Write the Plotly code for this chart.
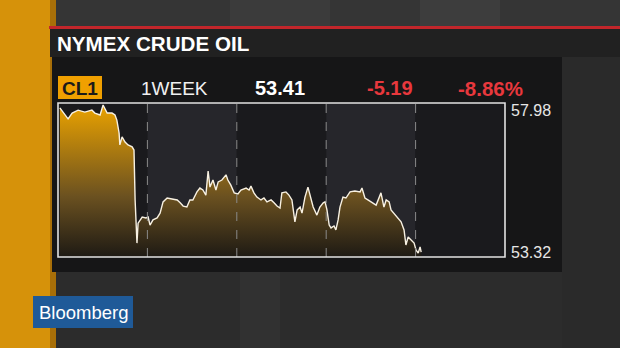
import plotly.graph_objects as go

# ---- data (hours since start of week, price) ----
hours = [0.5, 1.9, 2.7, 3.8, 5.4, 7.2, 9.1, 9.9, 11.3, 12.1, 13.2, 14.5, 15.3, 15.8, 16.4, 16.6,
         17.2, 18.0, 18.8, 19.9, 20.4, 20.7, 20.9, 21.2, 21.5, 22.0, 22.6, 23.6, 24.2,
         24.7, 25.5, 26.6, 27.4, 28.2, 29.3, 30.6, 32.0, 32.8, 33.6, 34.6, 35.4, 36.2, 37.3,
         38.1, 38.9, 39.7, 40.3, 40.8, 41.6, 42.4, 43.0, 44.0, 45.1, 45.6, 46.4, 47.3, 48.3,
         49.1, 50.5, 51.3, 51.8, 52.6, 53.4, 54.5, 55.3, 56.1, 57.2, 58.0, 58.8, 59.6, 60.1,
         61.2, 62.0, 62.8, 63.6, 64.2, 65.0, 65.5, 66.3, 67.1, 67.9, 68.5, 69.5, 70.3, 71.2,
         71.7, 72.2, 72.8, 73.3, 74.1, 74.6, 75.2, 75.7, 76.5, 77.3, 78.4, 79.7, 81.1, 81.6,
         82.4, 83.2, 84.3, 85.4, 86.7, 87.5, 88.1, 88.9, 89.4, 90.5, 91.3, 92.1, 92.9, 93.4,
         94.0, 94.8, 95.6, 96.1, 96.7, 97.2, 97.5]
prices = [57.89, 57.67, 57.55, 57.73, 57.82, 57.76, 57.82, 57.73, 57.67, 57.98, 57.73, 57.73,
          57.67, 57.51, 57.11, 56.74, 56.99, 56.83, 56.74, 56.68, 56.58, 55.03, 54.31, 53.69,
          54.31, 54.41, 54.50, 54.47, 54.50,
          54.25, 54.41, 54.47, 54.62, 54.97, 55.09, 55.06, 55.03, 54.94, 54.84, 54.81, 55.03,
          55.03, 55.28, 55.40, 55.34, 55.18, 55.93, 55.43, 55.65, 55.34, 55.59, 55.65, 55.81,
          55.65, 55.49, 55.25, 55.22,
          55.34, 55.40, 55.34, 55.46, 55.25, 55.12, 55.03, 55.09, 54.97, 55.03, 54.94, 54.84,
          54.78, 55.25, 55.28, 55.18, 55.03, 54.35, 54.72, 54.81, 54.62, 55.12, 55.43, 55.03,
          54.81, 54.56, 54.81, 54.94,
          54.97, 54.72, 54.25, 54.16, 54.22, 54.10, 54.41, 54.81, 55.12, 55.09, 55.28, 55.31,
          55.28, 55.40, 55.09, 55.03, 54.94, 54.87, 55.25, 54.81, 55.03, 54.97, 54.72, 54.56,
          54.47, 54.35, 54.10, 53.63, 53.88, 53.79, 53.69, 53.48, 53.38, 53.57, 53.41]

day_bounds = [0, 24, 48, 72, 96, 120]
y_high, y_low = 57.98, 53.32
ticker, period, last, chg, pct = "CL1", "1WEEK", "53.41", "-5.19", "-8.86%"
title = "NYMEX CRUDE OIL"

# ---- layout geometry (pixels) ----
W, H = 620, 348
L, R, T, B = 58, 505, 103, 257
pad = (y_high - y_low) * 2 / 150


def px(x):
    return (x - L) / (R - L)


def py(y):
    return (B - y) / (B - T)


def prect(x0, y0, x1, y1, color, layer="below"):
    return dict(type="rect", xref="paper", yref="paper", x0=px(x0), x1=px(x1),
                y0=py(y1), y1=py(y0), fillcolor=color, line=dict(width=0), layer=layer)


fig = go.Figure()
fig.add_trace(go.Scatter(
    x=hours, y=prices, mode="lines",
    line=dict(color="#f8f1e2", width=1.4),
    fill="tozeroy",
    fillgradient=dict(type="vertical", start=y_low - pad, stop=y_high,
                      colorscale=[[0, "#1e1a14"], [0.4, "#6b5120"], [1, "#eaa200"]]),
    hoverinfo="skip", showlegend=False))

shapes = []
# background decoration
shapes.append(prect(0, 0, W, 27, "#353535"))
shapes.append(prect(230, 0, 330, 27, "#3b3b3b"))
shapes.append(prect(420, 0, 500, 27, "#3d3d3d"))
shapes.append(prect(240, 272, 280, H, "#313131"))
shapes.append(prect(562, 57, W, H, "#2a2a2a"))
shapes.append(prect(0, 0, 52, H, "#d6920a"))
shapes.append(prect(50, 0, 56, H, "#a86f08"))
shapes.append(prect(49, 26, W, 29, "#c2262b"))
shapes.append(prect(50, 29, W, 57, "#212121"))
shapes.append(prect(52, 57, 562, 272, "#161617"))
# day sections
for i in range(len(day_bounds) - 1):
    shapes.append(dict(type="rect", xref="x", yref="paper", x0=day_bounds[i], x1=day_bounds[i + 1],
                       y0=0, y1=1, fillcolor="#26262b" if i % 2 == 1 else "#1a1a1d",
                       line=dict(width=0), layer="below"))
for d in day_bounds[1:-1]:
    shapes.append(dict(type="line", xref="x", yref="paper", x0=d, x1=d, y0=0, y1=1,
                       line=dict(color="#8a8a8a", width=1, dash="dash"), layer="above"))
shapes.append(dict(type="rect", xref="paper", yref="paper", x0=0, x1=1, y0=0, y1=1,
                   line=dict(color="#e2e2e2", width=1.6), layer="above"))
# ticker box and logo
shapes.append(prect(58, 76, 102, 99, "#f0a000", "above"))
shapes.append(prect(33, 296, 133, 328, "#1f5a98", "above"))

FONT = "Liberation Sans, Arial, sans-serif"


def txt(x, y, s, size, color, bold=False, anchor="left"):
    return dict(xref="paper", yref="paper", x=px(x), y=py(y), text=f"<b>{s}</b>" if bold else s,
                showarrow=False, xanchor=anchor, yanchor="middle",
                font=dict(family=FONT, size=size, color=color))


ann = [
    txt(55, 43, title, 20.6, "#ffffff", bold=True),
    txt(80, 88, ticker, 19, "#1a1a1a", bold=True, anchor="center"),
    txt(174, 88, period, 19, "#f0f0f0", anchor="center"),
    txt(280, 88, last, 20, "#ffffff", bold=True, anchor="center"),
    txt(390, 88, chg, 20, "#e8383d", bold=True, anchor="center"),
    txt(490, 88, pct, 20.5, "#e8383d", bold=True, anchor="center"),
    txt(509, 110, f"{y_high:.2f}", 16, "#e6e6e6"),
    txt(509, 252, f"{y_low:.2f}", 16, "#e6e6e6"),
    txt(83, 312, "Bloomberg", 18.5, "#ffffff", anchor="center"),
]

fig.update_layout(
    width=W, height=H,
    margin=dict(l=L, r=W - R, t=T, b=H - B, pad=0),
    paper_bgcolor="#2c2c2c", plot_bgcolor="rgba(0,0,0,0)",
    xaxis=dict(range=[day_bounds[0], day_bounds[-1]], visible=False, fixedrange=True),
    yaxis=dict(range=[y_low - pad, y_high + pad], visible=False, fixedrange=True),
    shapes=shapes, annotations=ann, showlegend=False,
)
fig.write_html("out.html", config={"displayModeBar": False})
